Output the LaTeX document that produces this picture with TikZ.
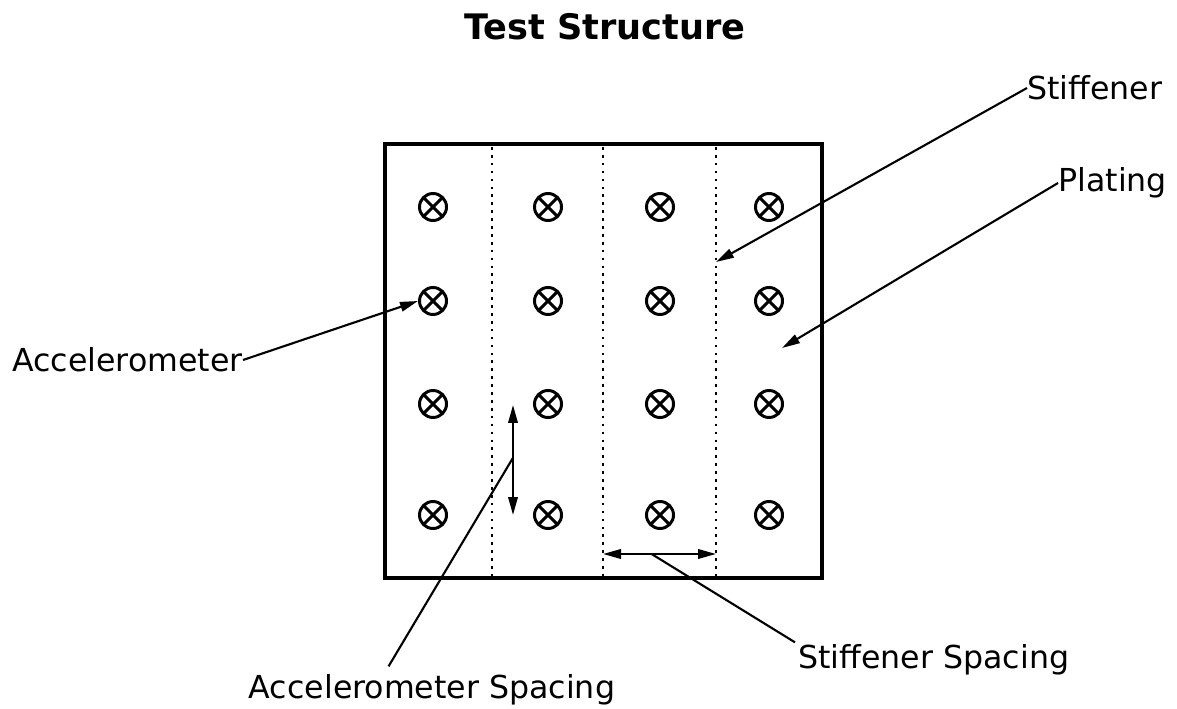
\documentclass[tikz,border=0pt]{standalone}
\usepackage{fontspec}
\setmainfont{DejaVu Sans}
\usetikzlibrary{arrows.meta, positioning, calc}

\tikzset{
    accel/.style={circle, draw, line width=1.7pt, minimum size=0.54cm, inner sep=0pt,
        path picture={\draw[line width=1.7pt]
            (path picture bounding box.north west) -- (path picture bounding box.south east)
            (path picture bounding box.north east) -- (path picture bounding box.south west);}},
    lbl/.style={inner sep=0pt, font=\fontsize{18}{21}\selectfont},
    tip/.style={Triangle[length=0.36cm, width=0.19cm]},
    leader/.style={line width=1.2pt, -{Triangle[length=0.36cm, width=0.19cm]}},
    span/.style={line width=1.2pt, {Triangle[length=0.36cm, width=0.19cm]}-{Triangle[length=0.36cm, width=0.19cm]}},
    stiff/.style={line width=1.5pt, dash pattern=on 1.5pt off 3pt},
}

\begin{document}
\begin{tikzpicture}[x=0.02cm, y=-0.02cm]
\useasboundingbox (0,0) rectangle (1177,709);

% title
\node[inner sep=0pt, font=\bfseries\fontsize{20}{24}\selectfont] (title) at (605,27) {Test Structure};

% plate with stiffeners
\draw[line width=2.1pt] (385,144) rectangle (822,578);
\foreach \x in {492,603,716}
    \draw[stiff] (\x,147) -- (\x,576);

% accelerometers
\foreach \x [count=\i] in {433,548,660,769}
    \foreach \y [count=\j] in {207,301,404,515}
        \node[accel] (a-\i-\j) at (\x,\y) {};

% labels
\node[lbl, anchor=west] (stif) at (1027,88) {Stiffener};
\node[lbl, anchor=west] (plat) at (1058,183) {Plating};
\node[lbl, anchor=east] (acc) at (243,360) {Accelerometer};
\node[lbl] (accsp) at (432,690) {Accelerometer Spacing};
\node[lbl, anchor=west] (stsp) at (798,660) {Stiffener Spacing};

% pointers
\coordinate (stifpt) at (716,262);
\coordinate (platpt) at (782,348);
\draw[leader] (stif.west) -- (stifpt);
\draw[leader] (plat.west) -- (platpt);
\draw[leader] (acc.east) -- (a-1-2.west);

% spacings
\coordinate (as1) at (513,405);
\coordinate (as2) at (513,515);
\coordinate (ss1) at (603,554);
\coordinate (ss2) at (716,554);
\draw[span] (as1) -- (as2);
\draw[span] (ss1) -- (ss2);
\draw[line width=1.2pt] ($(as1)!0.48!(as2)$) -- ($(accsp.north west)+(140,-8)$);
\draw[line width=1.2pt] ($(ss1)!0.43!(ss2)$) -- ($(stsp.north west)+(-3,-2)$);

\end{tikzpicture}
\end{document}
